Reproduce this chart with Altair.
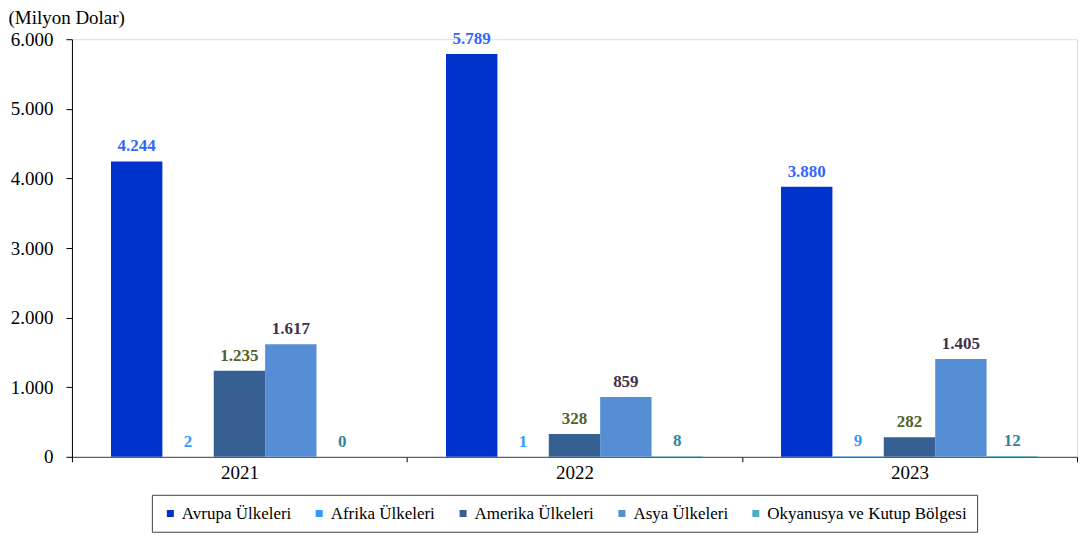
import altair as alt
import pandas as pd

years = ["2021", "2022", "2023"]
series = ["Avrupa Ülkeleri", "Afrika Ülkeleri", "Amerika Ülkeleri", "Asya Ülkeleri",
          "Okyanusya ve Kutup Bölgesi"]
avrupa = [4244, 5789, 3880]
afrika = [2, 1, 9]
amerika = [1235, 328, 282]
asya = [1617, 859, 1405]
okyanusya = [0, 8, 12]

bar_colors = ["#0033CC", "#3399FF", "#366092", "#558ED5", "#4BACC6"]
label_colors = ["#3366FF", "#3399FF", "#4F6228", "#3F3151", "#31849B"]

rows = []
for s, vals in zip(series, [avrupa, afrika, amerika, asya, okyanusya]):
    for y, v in zip(years, vals):
        rows.append({"year": y, "series": s, "value": v})
df = pd.DataFrame(rows)

FONT = "Liberation Serif, Times New Roman, serif"

x_enc = alt.X("year:N", sort=years,
              scale=alt.Scale(paddingInner=0, paddingOuter=0),
              axis=alt.Axis(title=None, labelAngle=0, tickBand="extent",
                            tickSize=5, tickColor="#000000", domainColor="#404040",
                            labelFontSize=19, labelColor="#000000", labelPadding=2,
                            labelFont=FONT))
xoff_enc = alt.XOffset("series:N", sort=series,
                       scale=alt.Scale(domain=series, paddingInner=0, paddingOuter=0.76))
y_enc = alt.Y("value:Q",
              scale=alt.Scale(domain=[0, 6000], nice=False),
              axis=alt.Axis(values=[0, 1000, 2000, 3000, 4000, 5000, 6000],
                            labelExpr="replace(format(datum.value, ','), ',', '.')",
                            grid=False, tickSize=6, tickColor="#000000",
                            domainColor="#000000", labelFontSize=19,
                            labelColor="#000000", labelPadding=13, labelFont=FONT,
                            title="(Milyon Dolar)", titleAngle=0, titleAlign="left",
                            titleBaseline="alphabetic", titleX=-64, titleY=-16,
                            titleFontSize=19, titleFontWeight="normal",
                            titleFont=FONT, titleColor="#000000"))

bars = alt.Chart(df).mark_bar().encode(
    x=x_enc,
    xOffset=xoff_enc,
    y=y_enc,
    color=alt.Color("series:N", sort=series,
                    scale=alt.Scale(domain=series, range=bar_colors),
                    legend=alt.Legend(title=None, orient="none", direction="horizontal",
                                      columns=5, legendX=80, legendY=456,
                                      symbolType="square", symbolSize=49,
                                      symbolStrokeWidth=0, labelFontSize=17,
                                      labelFont=FONT, labelColor="#000000",
                                      labelLimit=400,
                                      labelOffset=3, columnPadding=19, padding=10,
                                      strokeColor="#404040")),
)

texts = alt.Chart(df).transform_calculate(
    label="replace(format(datum.value, ','), ',', '.')"
).mark_text(baseline="bottom", dy=-6, fontSize=17, fontWeight="bold", font=FONT).encode(
    x=alt.X("year:N", sort=years),
    xOffset=alt.XOffset("series:N", sort=series),
    y=alt.Y("value:Q"),
    text="label:N",
    color=alt.Color("series:N", sort=series,
                    scale=alt.Scale(domain=series, range=label_colors), legend=None),
)

chart = alt.layer(bars, texts).resolve_scale(color="independent").properties(
    width=1006, height=418, padding=0
).configure_view(stroke=None).configure(font=FONT)

chart.save("out.html", embed_options={"renderer": "svg", "actions": False})
